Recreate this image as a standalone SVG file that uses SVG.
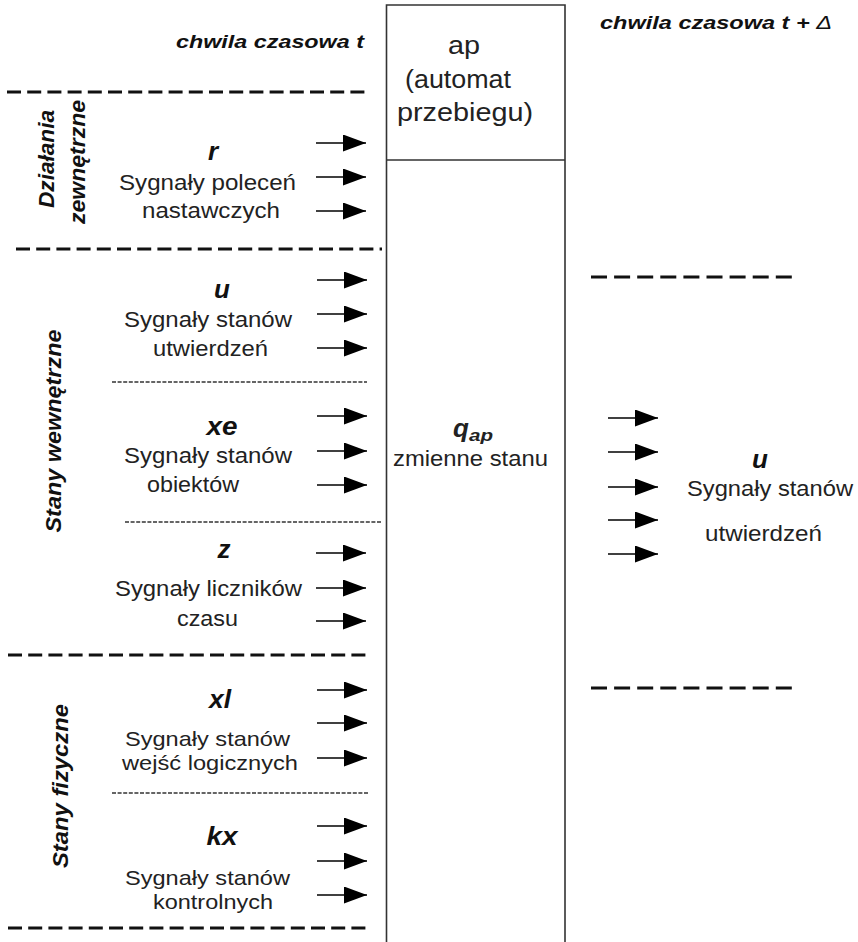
<svg xmlns="http://www.w3.org/2000/svg" width="858" height="942" viewBox="0 0 858 942">
  <defs>
    <marker id="ah" markerUnits="userSpaceOnUse" markerWidth="23" markerHeight="17" refX="23" refY="8.5" orient="auto">
      <path d="M0,0 L23,8.5 L0,17 Z" fill="#000"/>
    </marker>
    <style>
      text { font-family: "Liberation Sans", Arial, sans-serif; fill: #222; }
      .body { font-size: 22px; }
      .tight { font-size: 21px; }
      .box { font-size: 26px; }
      .sym { font-size: 26px; font-weight: bold; font-style: italic; fill: #111; text-anchor: middle; }
      .head { font-size: 19px; font-weight: bold; font-style: italic; fill: #111; }
      .side { font-size: 22px; font-weight: bold; font-style: italic; fill: #111; text-anchor: middle; }
      .thick { stroke: #111; stroke-width: 3; stroke-dasharray: 14 6.2; fill: none; }
      .thickR { stroke: #111; stroke-width: 3; stroke-dasharray: 16 7.1; fill: none; }
      .thin { stroke: #333; stroke-width: 1.3; stroke-dasharray: 4 1.6; fill: none; }
      .arr { stroke: #000; stroke-width: 1.6; fill: none; marker-end: url(#ah); }
      .frame { stroke: #333; stroke-width: 1.6; fill: none; }
    </style>
  </defs>
  <rect width="858" height="942" fill="#fff"/>

  <!-- column headings -->
  <g id="heading-t">
    <text class="head" x="176" y="48" textLength="188" lengthAdjust="spacingAndGlyphs">chwila czasowa t</text>
  </g>
  <g id="heading-t-delta">
    <text class="head" x="600" y="29" textLength="232" lengthAdjust="spacingAndGlyphs">chwila czasowa t + <tspan font-weight="normal">Δ</tspan></text>
  </g>

  <!-- automaton column -->
  <g id="automat">
    <path class="frame" d="M386.5,950 V5 H565 V950 M386.5,160 H565"/>
    <text class="box" x="448" y="54" textLength="32" lengthAdjust="spacingAndGlyphs">ap</text>
    <text class="box" x="405" y="88" textLength="106" lengthAdjust="spacingAndGlyphs">(automat</text>
    <text class="box" x="397" y="121" textLength="136" lengthAdjust="spacingAndGlyphs">przebiegu)</text>
  </g>
  <g id="qap">
    <text x="453" y="437" font-size="26" font-weight="bold" font-style="italic" fill="#111">q</text>
    <text x="469" y="441" font-size="16" font-weight="bold" font-style="italic" fill="#111" textLength="24" lengthAdjust="spacingAndGlyphs">ap</text>
    <text class="body" x="393" y="466" textLength="155" lengthAdjust="spacingAndGlyphs">zmienne stanu</text>
  </g>

  <!-- section separators -->
  <g id="separators">
    <line class="thick" x1="7" y1="92" x2="366" y2="92"/>
    <line class="thick" x1="16" y1="249" x2="382" y2="249"/>
    <line class="thick" x1="8" y1="655" x2="371" y2="655"/>
    <line class="thick" x1="8" y1="928" x2="371" y2="928"/>
    <line class="thin" x1="112" y1="382" x2="367" y2="382"/>
    <line class="thin" x1="125" y1="522" x2="382" y2="522"/>
    <line class="thin" x1="112" y1="793" x2="368" y2="793"/>
    <line class="thickR" x1="591" y1="277" x2="792" y2="277"/>
    <line class="thickR" x1="591" y1="688" x2="792" y2="688"/>
  </g>

  <!-- side captions -->
  <g id="dzialania-zewnetrzne">
    <text class="side" transform="translate(54,159) rotate(-90)" textLength="98" lengthAdjust="spacingAndGlyphs">Działania</text>
    <text class="side" transform="translate(85,162) rotate(-90)" textLength="124" lengthAdjust="spacingAndGlyphs">zewnętrzne</text>
  </g>
  <g id="stany-wewnetrzne">
    <text class="side" transform="translate(61,431) rotate(-90)" textLength="203" lengthAdjust="spacingAndGlyphs">Stany wewnętrzne</text>
  </g>
  <g id="stany-fizyczne">
    <text class="side" transform="translate(68,786) rotate(-90)" textLength="164" lengthAdjust="spacingAndGlyphs">Stany fizyczne</text>
  </g>

  <!-- signal groups, time t -->
  <g id="sig-r">
    <text class="sym" x="213" y="160">r</text>
    <text class="body" x="119" y="190" textLength="177" lengthAdjust="spacingAndGlyphs">Sygnały poleceń</text>
    <text class="body" x="142" y="218" textLength="138" lengthAdjust="spacingAndGlyphs">nastawczych</text>
  </g>
  <g id="sig-u">
    <text class="sym" x="222" y="298">u</text>
    <text class="body" x="124" y="327" textLength="168" lengthAdjust="spacingAndGlyphs">Sygnały stanów</text>
    <text class="body" x="153" y="356" textLength="115" lengthAdjust="spacingAndGlyphs">utwierdzeń</text>
  </g>
  <g id="sig-xe">
    <text class="sym" x="222" y="435" textLength="31" lengthAdjust="spacingAndGlyphs">xe</text>
    <text class="body" x="124" y="463" textLength="168" lengthAdjust="spacingAndGlyphs">Sygnały stanów</text>
    <text class="body" x="147" y="492" textLength="92" lengthAdjust="spacingAndGlyphs">obiektów</text>
  </g>
  <g id="sig-z">
    <text class="sym" x="224" y="558">z</text>
    <text class="body" x="115" y="596" textLength="187" lengthAdjust="spacingAndGlyphs">Sygnały liczników</text>
    <text class="body" x="177" y="626" textLength="61" lengthAdjust="spacingAndGlyphs">czasu</text>
  </g>
  <g id="sig-xl">
    <text class="sym" x="220" y="708" textLength="22" lengthAdjust="spacingAndGlyphs">xl</text>
    <text class="tight" x="125" y="746" textLength="165" lengthAdjust="spacingAndGlyphs">Sygnały stanów</text>
    <text class="tight" x="122" y="770" textLength="176" lengthAdjust="spacingAndGlyphs">wejść logicznych</text>
  </g>
  <g id="sig-kx">
    <text class="sym" x="222" y="845" textLength="31" lengthAdjust="spacingAndGlyphs">kx</text>
    <text class="tight" x="125" y="885" textLength="165" lengthAdjust="spacingAndGlyphs">Sygnały stanów</text>
    <text class="tight" x="153" y="909" textLength="120" lengthAdjust="spacingAndGlyphs">kontrolnych</text>
  </g>

  <!-- signal group, time t + delta -->
  <g id="sig-u-next">
    <text class="sym" x="760" y="468">u</text>
    <text class="body" x="687" y="496" textLength="166" lengthAdjust="spacingAndGlyphs">Sygnały stanów</text>
    <text class="body" x="705" y="541" textLength="117" lengthAdjust="spacingAndGlyphs">utwierdzeń</text>
  </g>

  <!-- signal arrows -->
  <g id="connectors">
    <line class="arr" x1="316" y1="143" x2="366" y2="143"/>
    <line class="arr" x1="316" y1="177" x2="366" y2="177"/>
    <line class="arr" x1="316" y1="211" x2="366" y2="211"/>
    <line class="arr" x1="317" y1="280" x2="367" y2="280"/>
    <line class="arr" x1="317" y1="314" x2="367" y2="314"/>
    <line class="arr" x1="317" y1="348" x2="367" y2="348"/>
    <line class="arr" x1="317" y1="416" x2="367" y2="416"/>
    <line class="arr" x1="317" y1="451" x2="367" y2="451"/>
    <line class="arr" x1="317" y1="485" x2="367" y2="485"/>
    <line class="arr" x1="316" y1="553" x2="366" y2="553"/>
    <line class="arr" x1="316" y1="588" x2="366" y2="588"/>
    <line class="arr" x1="316" y1="621" x2="366" y2="621"/>
    <line class="arr" x1="317" y1="690" x2="367" y2="690"/>
    <line class="arr" x1="317" y1="723" x2="367" y2="723"/>
    <line class="arr" x1="317" y1="758" x2="367" y2="758"/>
    <line class="arr" x1="317" y1="826" x2="367" y2="826"/>
    <line class="arr" x1="317" y1="861" x2="367" y2="861"/>
    <line class="arr" x1="317" y1="895" x2="367" y2="895"/>
    <line class="arr" x1="608" y1="418" x2="658" y2="418"/>
    <line class="arr" x1="608" y1="452" x2="658" y2="452"/>
    <line class="arr" x1="608" y1="487" x2="658" y2="487"/>
    <line class="arr" x1="608" y1="520" x2="658" y2="520"/>
    <line class="arr" x1="608" y1="554" x2="658" y2="554"/>
  </g>
</svg>
